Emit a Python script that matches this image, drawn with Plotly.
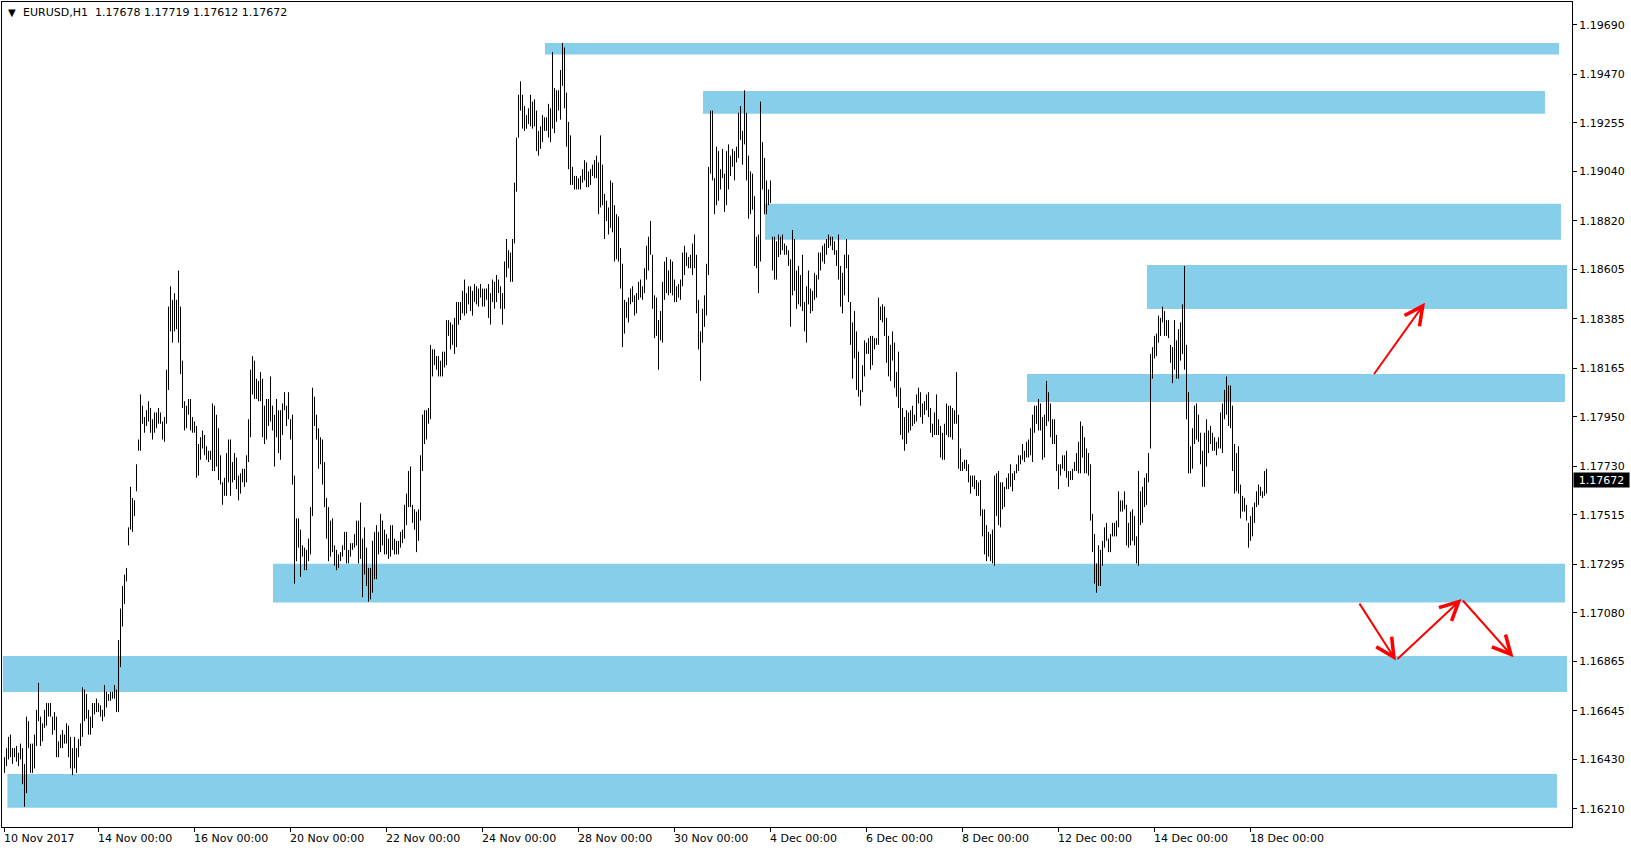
import plotly.graph_objects as go

# ---------------- data: EURUSD H1 bar highs / lows ----------------
high_1 = [
    1.1644, 1.1648, 1.1653, 1.1654, 1.1648, 1.1648, 1.1649, 1.1646, 1.1650, 1.1648,
    1.1641, 1.1662, 1.1660, 1.1650, 1.1650, 1.1654, 1.1665, 1.1677, 1.1662, 1.1659,
    1.1665, 1.1668, 1.1668, 1.1668, 1.1662, 1.1664, 1.1662, 1.1651, 1.1654, 1.1656,
    1.1654, 1.1659, 1.1658, 1.1653, 1.1648, 1.1653, 1.1648, 1.1652, 1.1659, 1.1675,
    1.1674, 1.1672, 1.1665, 1.1662, 1.1668, 1.1668, 1.1670, 1.1668, 1.1667, 1.1665,
    1.1676, 1.1673, 1.1672, 1.1673, 1.1673, 1.1676, 1.1674, 1.1696, 1.1710, 1.1720,
    1.1725, 1.1728, 1.1746, 1.1764, 1.1759, 1.1758, 1.1774, 1.1785, 1.1805, 1.1800,
    1.1795, 1.1798, 1.1802, 1.1799, 1.1794, 1.1797, 1.1797, 1.1799, 1.1797, 1.1793,
    1.1795, 1.1816, 1.1844, 1.1853, 1.1847, 1.1850, 1.1847, 1.1860, 1.1844, 1.1820,
    1.1802, 1.1800, 1.1803, 1.1803, 1.1795, 1.1793, 1.1791, 1.1783, 1.1786, 1.1789,
    1.1787, 1.1782, 1.1780, 1.1780, 1.1801, 1.1800, 1.1796, 1.1790, 1.1778, 1.1766,
    1.1768, 1.1779, 1.1785, 1.1785, 1.1775, 1.1779, 1.1777, 1.1769, 1.1770, 1.1772,
    1.1772, 1.1778, 1.1794, 1.1816, 1.1822, 1.1820, 1.1812, 1.1811, 1.1815,
]
low_1 = [
    1.1637, 1.1640, 1.1643, 1.1644, 1.1641, 1.1644, 1.1642, 1.1640, 1.1643, 1.1632,
    1.1622, 1.1628, 1.1648, 1.1637, 1.1637, 1.1639, 1.1649, 1.1660, 1.1649, 1.1651,
    1.1657, 1.1658, 1.1662, 1.1662, 1.1654, 1.1656, 1.1644, 1.1644, 1.1648, 1.1648,
    1.1650, 1.1650, 1.1644, 1.1639, 1.1636, 1.1639, 1.1637, 1.1644, 1.1649, 1.1653,
    1.1660, 1.1661, 1.1654, 1.1654, 1.1657, 1.1663, 1.1664, 1.1664, 1.1662, 1.1660,
    1.1662, 1.1666, 1.1669, 1.1669, 1.1670, 1.1670, 1.1664, 1.1664, 1.1684, 1.1702,
    1.1712, 1.1722, 1.1738, 1.1745, 1.1744, 1.1751, 1.1762, 1.1780, 1.1780, 1.1792,
    1.1788, 1.1791, 1.1793, 1.1788, 1.1785, 1.1788, 1.1790, 1.1792, 1.1792, 1.1785,
    1.1784, 1.1792, 1.1807, 1.1833, 1.1828, 1.1833, 1.1834, 1.1828, 1.1814, 1.1799,
    1.1789, 1.1790, 1.1796, 1.1789, 1.1788, 1.1788, 1.1768, 1.1769, 1.1776, 1.1781,
    1.1778, 1.1776, 1.1775, 1.1776, 1.1771, 1.1771, 1.1773, 1.1767, 1.1765, 1.1756,
    1.1760, 1.1760, 1.1766, 1.1760, 1.1766, 1.1767, 1.1763, 1.1758, 1.1761, 1.1766,
    1.1764, 1.1766, 1.1775, 1.1786, 1.1805, 1.1803, 1.1803, 1.1802, 1.1802,
]
high_2 = [
    1.1812, 1.1800, 1.1803, 1.1803, 1.1813, 1.1800, 1.1796, 1.1803, 1.1798, 1.1798,
    1.1801, 1.1806, 1.1800, 1.1806, 1.1794, 1.1796, 1.1769, 1.1750, 1.1750, 1.1745,
    1.1738, 1.1737, 1.1736, 1.1741, 1.1755, 1.1808, 1.1804, 1.1796, 1.1790, 1.1786,
    1.1785, 1.1775, 1.1759, 1.1755, 1.1749, 1.1750, 1.1738, 1.1736, 1.1734, 1.1735,
    1.1738, 1.1744, 1.1744, 1.1736, 1.1739, 1.1739, 1.1743, 1.1749, 1.1749, 1.1757,
    1.1741, 1.1746, 1.1737, 1.1728, 1.1728, 1.1740, 1.1744, 1.1747, 1.1744, 1.1752,
    1.1749, 1.1745, 1.1743, 1.1741, 1.1747, 1.1747, 1.1741, 1.1740, 1.1740, 1.1744,
    1.1745, 1.1756, 1.1761, 1.1771, 1.1773, 1.1756, 1.1754, 1.1753, 1.1754, 1.1778,
    1.1796, 1.1798, 1.1798, 1.1799, 1.1827, 1.1825, 1.1825, 1.1822, 1.1822, 1.1820,
    1.1824, 1.1824, 1.1838, 1.1838, 1.1837, 1.1836, 1.1839, 1.1846, 1.1846, 1.1846,
    1.1851, 1.1856, 1.1850, 1.1853, 1.1853, 1.1851, 1.1854, 1.1853, 1.1852, 1.1854,
    1.1852, 1.1852, 1.1852, 1.1854, 1.1850, 1.1856, 1.1855, 1.1858, 1.1856, 1.1853,
    1.1850, 1.1864, 1.1874, 1.1869, 1.1868, 1.1874, 1.1899, 1.1919, 1.1938, 1.1944,
]
low_2 = [
    1.1786, 1.1783, 1.1785, 1.1791, 1.1793, 1.1789, 1.1773, 1.1786, 1.1779, 1.1776,
    1.1787, 1.1798, 1.1791, 1.1794, 1.1785, 1.1765, 1.1721, 1.1731, 1.1737, 1.1724,
    1.1733, 1.1727, 1.1727, 1.1731, 1.1734, 1.1751, 1.1791, 1.1785, 1.1772, 1.1774,
    1.1765, 1.1755, 1.1741, 1.1731, 1.1733, 1.1735, 1.1729, 1.1727, 1.1728, 1.1731,
    1.1733, 1.1736, 1.1730, 1.1730, 1.1733, 1.1736, 1.1737, 1.1738, 1.1730, 1.1732,
    1.1715, 1.1725, 1.1720, 1.1713, 1.1714, 1.1717, 1.1723, 1.1723, 1.1734, 1.1735,
    1.1738, 1.1734, 1.1734, 1.1732, 1.1733, 1.1736, 1.1734, 1.1734, 1.1734, 1.1737,
    1.1739, 1.1741, 1.1747, 1.1755, 1.1755, 1.1748, 1.1745, 1.1735, 1.1740, 1.1749,
    1.1771, 1.1783, 1.1785, 1.1792, 1.1794, 1.1813, 1.1818, 1.1816, 1.1813, 1.1813,
    1.1813, 1.1817, 1.1818, 1.1831, 1.1825, 1.1827, 1.1823, 1.1826, 1.1836, 1.1838,
    1.1841, 1.1840, 1.1841, 1.1845, 1.1842, 1.1840, 1.1846, 1.1845, 1.1844, 1.1848,
    1.1844, 1.1844, 1.1847, 1.1839, 1.1836, 1.1846, 1.1843, 1.1846, 1.1850, 1.1843,
    1.1836, 1.1843, 1.1857, 1.1861, 1.1855, 1.1855, 1.1872, 1.1895, 1.1919, 1.1931,
]
high_3 = [
    1.1938, 1.1933, 1.1929, 1.1932, 1.1938, 1.1935, 1.1936, 1.1931, 1.1922, 1.1924,
    1.1929, 1.1928, 1.1928, 1.1934, 1.1932, 1.1957, 1.1941, 1.1940, 1.1940, 1.1949,
    1.1961, 1.1959, 1.1939, 1.1926, 1.1920, 1.1906, 1.1902, 1.1902, 1.1901, 1.1902,
    1.1905, 1.1909, 1.1908, 1.1904, 1.1905, 1.1907, 1.1909, 1.1911, 1.1908, 1.1920,
    1.1907, 1.1894, 1.1891, 1.1888, 1.1900, 1.1899, 1.1889, 1.1885, 1.1884, 1.1870,
    1.1863, 1.1847, 1.1846, 1.1848, 1.1852, 1.1853, 1.1849, 1.1850, 1.1855, 1.1856,
    1.1853, 1.1861, 1.1871, 1.1875, 1.1882, 1.1867, 1.1849, 1.1848, 1.1838, 1.1842,
    1.1855, 1.1864, 1.1866, 1.1860, 1.1865, 1.1864, 1.1856, 1.1853, 1.1854, 1.1856,
    1.1868, 1.1871, 1.1868, 1.1866, 1.1867, 1.1872, 1.1876, 1.1867, 1.1847, 1.1833,
    1.1843, 1.1849, 1.1863, 1.1906, 1.1931, 1.1931, 1.1901, 1.1915, 1.1913, 1.1905,
    1.1914, 1.1903, 1.1913, 1.1916, 1.1911, 1.1914, 1.1913, 1.1915, 1.1930, 1.1933,
    1.1922, 1.1940, 1.1930, 1.1911, 1.1904, 1.1903, 1.1893, 1.1875, 1.1876, 1.1935,
    1.1917, 1.1910, 1.1900, 1.1896, 1.1900, 1.1875, 1.1875, 1.1873, 1.1876, 1.1875,
]
low_3 = [
    1.1923, 1.1922, 1.1923, 1.1925, 1.1924, 1.1923, 1.1924, 1.1913, 1.1911, 1.1914,
    1.1917, 1.1922, 1.1922, 1.1919, 1.1917, 1.1923, 1.1921, 1.1926, 1.1931, 1.1927,
    1.1942, 1.1932, 1.1915, 1.1905, 1.1898, 1.1898, 1.1896, 1.1896, 1.1896, 1.1896,
    1.1899, 1.1900, 1.1897, 1.1897, 1.1898, 1.1902, 1.1901, 1.1901, 1.1885, 1.1888,
    1.1889, 1.1874, 1.1882, 1.1876, 1.1879, 1.1877, 1.1864, 1.1865, 1.1864, 1.1852,
    1.1826, 1.1832, 1.1839, 1.1837, 1.1845, 1.1846, 1.1840, 1.1841, 1.1847, 1.1848,
    1.1847, 1.1850, 1.1856, 1.1860, 1.1867, 1.1843, 1.1830, 1.1831, 1.1816, 1.1829,
    1.1828, 1.1847, 1.1850, 1.1849, 1.1850, 1.1849, 1.1846, 1.1846, 1.1848, 1.1847,
    1.1853, 1.1858, 1.1862, 1.1861, 1.1861, 1.1858, 1.1861, 1.1841, 1.1825, 1.1811,
    1.1828, 1.1835, 1.1840, 1.1858, 1.1903, 1.1900, 1.1885, 1.1889, 1.1891, 1.1896,
    1.1901, 1.1886, 1.1889, 1.1896, 1.1902, 1.1906, 1.1900, 1.1908, 1.1910, 1.1918,
    1.1907, 1.1916, 1.1900, 1.1883, 1.1885, 1.1887, 1.1862, 1.1861, 1.1850, 1.1864,
    1.1896, 1.1885, 1.1885, 1.1889, 1.1890, 1.1860, 1.1856, 1.1856, 1.1866, 1.1867,
]
high_4 = [
    1.1876, 1.1872, 1.1871, 1.1869, 1.1865, 1.1878, 1.1874, 1.1860, 1.1862, 1.1858,
    1.1867, 1.1846, 1.1853, 1.1860, 1.1852, 1.1851, 1.1859, 1.1858, 1.1868, 1.1868,
    1.1871, 1.1872, 1.1874, 1.1876, 1.1875, 1.1875, 1.1873, 1.1869, 1.1876, 1.1862,
    1.1859, 1.1867, 1.1874, 1.1867, 1.1846, 1.1837, 1.1842, 1.1833, 1.1824, 1.1807,
    1.1818, 1.1829, 1.1828, 1.1830, 1.1831, 1.1831, 1.1830, 1.1830, 1.1848, 1.1844,
    1.1845, 1.1844, 1.1839, 1.1831, 1.1827, 1.1833, 1.1828, 1.1815, 1.1824, 1.1808,
    1.1799, 1.1795, 1.1798, 1.1797, 1.1798, 1.1800, 1.1796, 1.1805, 1.1808, 1.1806,
    1.1801, 1.1802, 1.1805, 1.1806, 1.1799, 1.1792, 1.1797, 1.1805, 1.1794, 1.1791,
    1.1788, 1.1792, 1.1801, 1.1800, 1.1800, 1.1799, 1.1798, 1.1815, 1.1796, 1.1781,
    1.1775, 1.1776, 1.1776, 1.1774, 1.1769, 1.1769, 1.1769, 1.1767, 1.1766, 1.1767,
    1.1754, 1.1754, 1.1747, 1.1744, 1.1743, 1.1745, 1.1769, 1.1770, 1.1771, 1.1766,
    1.1766, 1.1764, 1.1768, 1.1770, 1.1774, 1.1770, 1.1771, 1.1774, 1.1778, 1.1778,
    1.1783, 1.1780, 1.1784, 1.1785, 1.1790, 1.1796, 1.1800, 1.1800, 1.1803, 1.1801,
]
low_4 = [
    1.1869, 1.1867, 1.1867, 1.1862, 1.1835, 1.1849, 1.1851, 1.1843, 1.1845, 1.1844,
    1.1842, 1.1833, 1.1828, 1.1845, 1.1841, 1.1842, 1.1847, 1.1848, 1.1856, 1.1860,
    1.1864, 1.1863, 1.1867, 1.1870, 1.1871, 1.1869, 1.1867, 1.1862, 1.1856, 1.1844,
    1.1841, 1.1849, 1.1861, 1.1846, 1.1827, 1.1812, 1.1821, 1.1807, 1.1804, 1.1800,
    1.1806, 1.1813, 1.1823, 1.1823, 1.1816, 1.1818, 1.1825, 1.1827, 1.1827, 1.1838,
    1.1837, 1.1831, 1.1819, 1.1813, 1.1811, 1.1820, 1.1808, 1.1804, 1.1799, 1.1787,
    1.1785, 1.1780, 1.1783, 1.1788, 1.1789, 1.1791, 1.1792, 1.1793, 1.1801, 1.1795,
    1.1792, 1.1796, 1.1798, 1.1795, 1.1788, 1.1786, 1.1787, 1.1787, 1.1787, 1.1777,
    1.1776, 1.1776, 1.1787, 1.1786, 1.1786, 1.1785, 1.1792, 1.1792, 1.1772, 1.1771,
    1.1771, 1.1772, 1.1771, 1.1766, 1.1761, 1.1764, 1.1763, 1.1760, 1.1760, 1.1751,
    1.1742, 1.1734, 1.1731, 1.1733, 1.1731, 1.1730, 1.1729, 1.1751, 1.1747, 1.1746,
    1.1754, 1.1755, 1.1763, 1.1763, 1.1764, 1.1762, 1.1767, 1.1770, 1.1771, 1.1774,
    1.1776, 1.1775, 1.1777, 1.1777, 1.1778, 1.1775, 1.1788, 1.1792, 1.1789, 1.1789,
]
high_5 = [
    1.1795, 1.1796, 1.1811, 1.1806, 1.1801, 1.1794, 1.1794, 1.1787, 1.1774, 1.1774,
    1.1778, 1.1778, 1.1780, 1.1771, 1.1771, 1.1772, 1.1775, 1.1779, 1.1784, 1.1793,
    1.1791, 1.1786, 1.1781, 1.1779, 1.1774, 1.1752, 1.1743, 1.1730, 1.1738, 1.1736,
    1.1740, 1.1746, 1.1748, 1.1741, 1.1743, 1.1748, 1.1748, 1.1749, 1.1762, 1.1758,
    1.1758, 1.1762, 1.1756, 1.1748, 1.1753, 1.1754, 1.1751, 1.1742, 1.1771, 1.1762,
    1.1764, 1.1768, 1.1770, 1.1779, 1.1823, 1.1826, 1.1831, 1.1832, 1.1840, 1.1839,
    1.1844, 1.1842, 1.1838, 1.1838, 1.1827, 1.1826, 1.1838, 1.1829, 1.1834, 1.1837,
    1.1845, 1.1862, 1.1827, 1.1806, 1.1782, 1.1790, 1.1800, 1.1801, 1.1796, 1.1788,
    1.1780, 1.1788, 1.1794, 1.1789, 1.1791, 1.1788, 1.1786, 1.1784, 1.1786, 1.1797,
    1.1801, 1.1807, 1.1813, 1.1809, 1.1809, 1.1800, 1.1783, 1.1779, 1.1782, 1.1765,
    1.1760, 1.1759, 1.1756, 1.1748, 1.1751, 1.1755, 1.1757, 1.1762, 1.1765, 1.1764,
    1.1762, 1.1771, 1.1772,
]
low_5 = [
    1.1776, 1.1777, 1.1791, 1.1793, 1.1786, 1.1783, 1.1783, 1.1771, 1.1763, 1.1769,
    1.1772, 1.1771, 1.1768, 1.1764, 1.1767, 1.1767, 1.1771, 1.1771, 1.1770, 1.1770,
    1.1777, 1.1770, 1.1770, 1.1769, 1.1749, 1.1735, 1.1721, 1.1717, 1.1720, 1.1720,
    1.1729, 1.1737, 1.1740, 1.1735, 1.1735, 1.1742, 1.1742, 1.1742, 1.1746, 1.1753,
    1.1753, 1.1754, 1.1738, 1.1737, 1.1738, 1.1740, 1.1738, 1.1730, 1.1729, 1.1747,
    1.1748, 1.1755, 1.1756, 1.1766, 1.1781, 1.1812, 1.1821, 1.1822, 1.1828, 1.1831,
    1.1837, 1.1831, 1.1831, 1.1830, 1.1819, 1.1810, 1.1816, 1.1812, 1.1812, 1.1820,
    1.1823, 1.1816, 1.1794, 1.1770, 1.1770, 1.1772, 1.1783, 1.1785, 1.1784, 1.1774,
    1.1764, 1.1764, 1.1773, 1.1779, 1.1783, 1.1780, 1.1780, 1.1778, 1.1781, 1.1781,
    1.1779, 1.1794, 1.1796, 1.1791, 1.1790, 1.1771, 1.1761, 1.1762, 1.1761, 1.1750,
    1.1753, 1.1753, 1.1749, 1.1737, 1.1740, 1.1742, 1.1748, 1.1755, 1.1756, 1.1760,
    1.1759, 1.1760, 1.1761,
]

# x-axis ticks (bar index) and labels
tick_bars = [0, 47, 95, 143, 191, 239, 287, 335, 383, 431, 479, 527, 575, 623]
tick_labels = ["10 Nov 2017", "14 Nov 00:00", "16 Nov 00:00", "20 Nov 00:00",
               "22 Nov 00:00", "24 Nov 00:00", "28 Nov 00:00", "30 Nov 00:00",
               "4 Dec 00:00", "6 Dec 00:00", "8 Dec 00:00", "12 Dec 00:00",
               "14 Dec 00:00", "18 Dec 00:00"]

# price axis ticks
price_ticks = [1.19690, 1.19470, 1.19255, 1.19040, 1.18820, 1.18605, 1.18385,
               1.18165, 1.17950, 1.17730, 1.17515, 1.17295, 1.17080, 1.16865,
               1.16645, 1.16430, 1.16210]

# support / resistance zones (bar index span, price span)
zone_x0 = [270.25, 349.25, 380.25, 571.25, 511.25, 134.25, -0.85, 1.45]
zone_x1 = [777.25, 770.25, 778.25, 781.25, 780.25, 780.25, 781.25, 776.25]
zone_lo = [1.19559, 1.19296, 1.18737, 1.18429, 1.18017, 1.17127, 1.16729, 1.16216]
zone_hi = [1.19610, 1.19397, 1.18896, 1.18625, 1.18141, 1.17298, 1.16889, 1.16365]

# red scenario arrows (tail -> head)
arrow_x0 = [684.25, 677.0, 695.75, 728.5]
arrow_y0 = [1.18134, 1.17128, 1.16869, 1.17142]
arrow_x1 = [710.25, 695.75, 728.5, 754.5]
arrow_y1 = [1.18457, 1.16869, 1.17142, 1.16883]

symbol = "EURUSD,H1"
last_ohlc = [1.17678, 1.17719, 1.17612, 1.17672]
last_price = 1.17672

# ---------------- build figure ----------------
highs, lows = [], []
for h, l in [(high_1, low_1), (high_2, low_2), (high_3, low_3), (high_4, low_4), (high_5, low_5)]:
    m = min(len(h), len(l))
    highs += h[:m]
    lows += l[:m]

xs, ys = [], []
for i, (h, l) in enumerate(zip(highs, lows)):
    xs += [i, i, None]
    ys += [l, h, None]

fig = go.Figure()
fig.add_trace(go.Scatter(x=xs, y=ys, mode="lines",
                         line=dict(color="black", width=1),
                         hoverinfo="skip", showlegend=False))

for x0, x1, lo, hi in zip(zone_x0, zone_x1, zone_lo, zone_hi):
    fig.add_shape(type="rect", xref="x", yref="y", x0=x0, x1=x1, y0=lo, y1=hi,
                  fillcolor="#87CEEB", line=dict(width=0), layer="below")

annotations = []
for x0, y0, x1, y1 in zip(arrow_x0, arrow_y0, arrow_x1, arrow_y1):
    annotations.append(dict(x=x1, y=y1, ax=x0, ay=y0, xref="x", yref="y",
                            axref="x", ayref="y", text="", showarrow=True,
                            arrowhead=5, arrowsize=1.8, arrowwidth=2,
                            arrowcolor="#FF0000", standoff=0, startstandoff=0))

for tb, tl in zip(tick_bars, tick_labels):
    annotations.append(dict(x=tb, y=-0.0139, xref="x", yref="paper", text=tl,
                            showarrow=False, xanchor="left", yanchor="middle",
                            xshift=-3, font=dict(size=11, color="black",
                                                 family="DejaVu Sans")))

title_text = symbol + "\u00a0 " + " ".join(f"{v:.5f}" for v in last_ohlc)
annotations.append(dict(x=0.01255, y=0.9867, xref="paper", yref="paper",
                        text=title_text, showarrow=False, xanchor="left",
                        yanchor="middle", borderpad=0,
                        font=dict(size=11, color="black", family="DejaVu Sans")))
annotations.append(dict(x=0.0062, y=0.9875, xref="paper", yref="paper",
                        text="\u25bc", showarrow=False, xanchor="center",
                        yanchor="middle", borderpad=0,
                        font=dict(size=10, color="black", family="DejaVu Sans")))
annotations.append(dict(x=1, y=last_price, xref="paper", yref="y",
                        text=f"{last_price:.5f}", showarrow=False,
                        xanchor="left", yanchor="middle", xshift=1,
                        width=55, height=14, borderpad=0, bgcolor="black",
                        font=dict(size=11, color="white", family="DejaVu Sans")))

fig.update_layout(
    width=1631, height=852,
    margin=dict(l=2, r=59, t=2, b=25, pad=0),
    paper_bgcolor="white", plot_bgcolor="white",
    font=dict(family="DejaVu Sans", size=11, color="black"),
    showlegend=False, hovermode=False,
    annotations=annotations,
    xaxis=dict(range=[-1.25, 783.75], showgrid=False, zeroline=False,
               showline=True, linecolor="black", linewidth=1, mirror=True,
               ticks="outside", ticklen=4, tickcolor="black",
               tickvals=tick_bars, showticklabels=False, fixedrange=True),
    yaxis=dict(range=[1.16130, 1.19792], side="right", showgrid=False,
               zeroline=False, showline=True, linecolor="black", linewidth=1,
               mirror=True, ticks="outside", ticklen=4, tickcolor="black",
               tickvals=price_ticks, ticktext=[f"{v:.5f}" for v in price_ticks],
               tickfont=dict(size=11, color="black", family="DejaVu Sans"),
               fixedrange=True),
)

fig.write_html("out.html", config={"displayModeBar": False},
               post_script="document.body.style.margin='0';document.body.style.overflow='hidden';")
